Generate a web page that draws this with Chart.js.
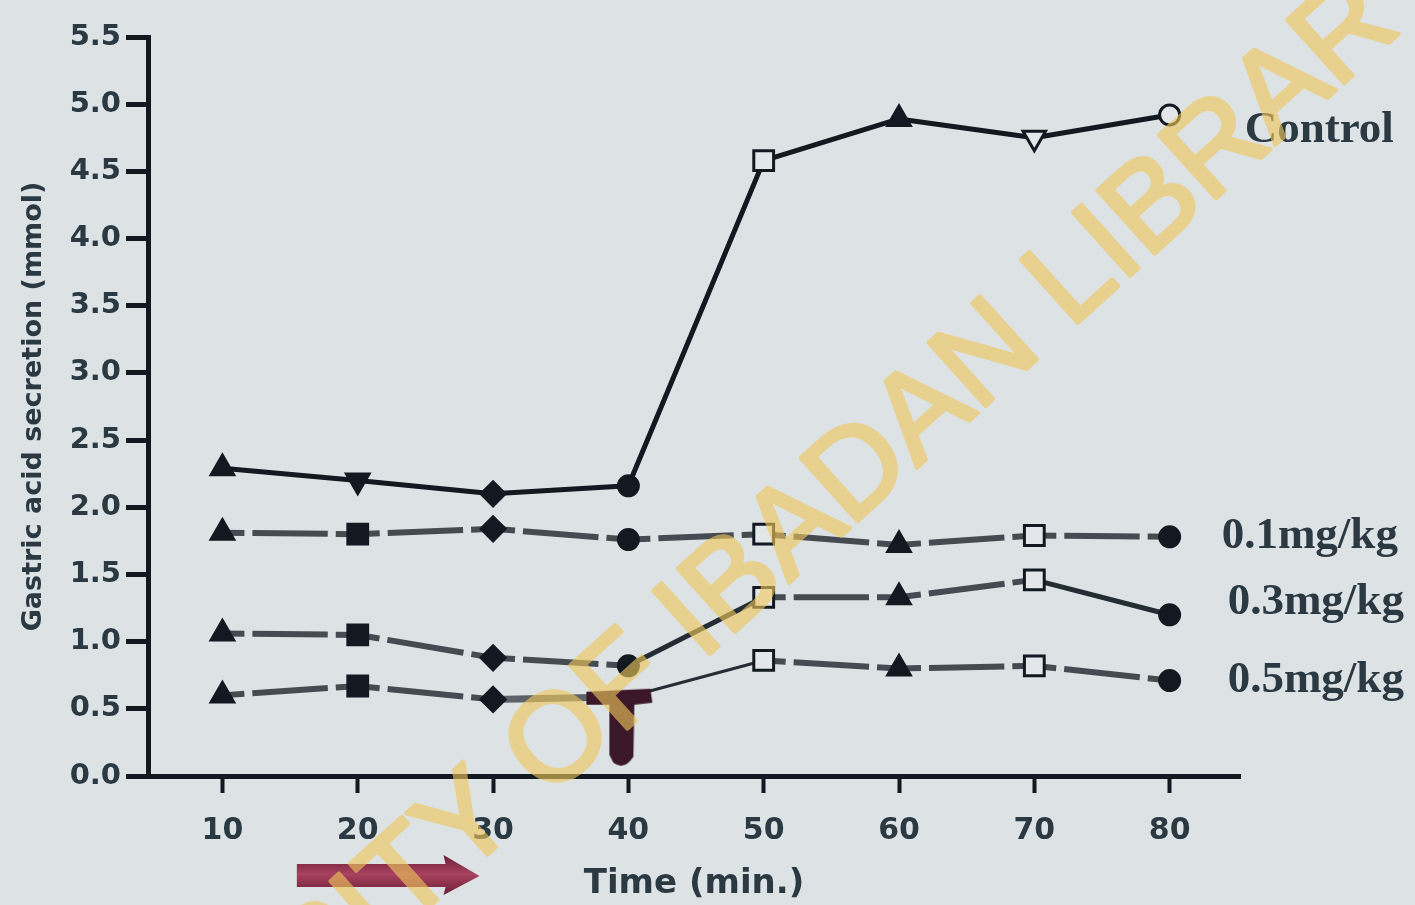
<!DOCTYPE html>
<html>
<head>
<meta charset="utf-8">
<script src="https://cdn.jsdelivr.net/npm/chart.js@4/dist/chart.umd.min.js"></script>
<style>
  html, body { margin: 0; padding: 0; background: #dde2e5; overflow: hidden; }
  canvas { display: block; }
</style>
</head>
<body>
<canvas id="chart" width="1415" height="905"></canvas>
<script>
// ---- data ----
const times = [10, 20, 30, 40, 50, 60, 70, 80];
const controlValues = [2.29, 2.20, 2.10, 2.16, 4.58, 4.89, 4.75, 4.92];
const dose01Values  = [1.81, 1.80, 1.84, 1.76, 1.80, 1.72, 1.79, 1.78];
const dose03Values  = [1.06, 1.05, 0.88, 0.82, 1.33, 1.33, 1.46, 1.20];
const dose05Values  = [0.60, 0.67, 0.57, 0.59, 0.86, 0.80, 0.82, 0.71];
const seriesNames = ['Control', '0.1mg/kg', '0.3mg/kg', '0.5mg/kg'];
const xTickValues = [10, 20, 30, 40, 50, 60, 70, 80];
const yTickValues = [0, 0.5, 1, 1.5, 2, 2.5, 3, 3.5, 4, 4.5, 5, 5.5];

// ---- styling ----
const ink = '#121920';
const labelInk = '#2b3943';
const paper = '#dde2e5';
const openFill = '#e3e7e9';

// marker sequence along the time axis
const controlShapes = ['triangle', 'triangle', 'rectRot', 'circle', 'rect', 'triangle', 'triangle', 'circle'];
const doseShapes    = ['triangle', 'rect', 'rectRot', 'circle', 'rect', 'triangle', 'rect', 'circle'];
const markerRotation = [0, 180, 0, 0, 0, 0, 180, 0];
const controlOpen = [false, false, false, false, true, false, true, true];
const doseOpen    = [false, false, false, false, true, false, true, false];
const markerRadius = { triangle: 13, rect: 14, rectRot: 12, circle: 10 };

// how each stretch between neighbouring points is stroked
const controlSegments = ['solid', 'solid', 'solid', 'solid', 'solid', 'solid', 'solid'];
const dose01Segments  = ['dash', 'dash', 'dash', 'dash', 'dash', 'dash', 'dash'];
const dose03Segments  = ['dash', 'dash', 'dash', 'join', 'dash', 'dash', 'join'];
const dose05Segments  = ['dash', 'dash', 'bar', 'thin', 'dash', 'dash', 'dash'];
const segmentLook = {
  solid: { color: ink, width: 5 },
  dash:  { color: '#454b51', width: 6 },
  join:  { color: '#242c34', width: 5 },
  thin:  { color: '#262d35', width: 3 },
  bar:   { color: '#5c6267', width: 7 }
};

// maroon T-shaped marker used for the 0.5 mg/kg reading at 40 min
function makeTeeMarker() {
  const c = document.createElement('canvas');
  c.width = 100; c.height = 160;
  const g = c.getContext('2d');
  g.fillStyle = '#3a1829';
  const cx = 50, cy = 80;
  g.beginPath();
  g.moveTo(cx - 42, cy - 5);
  g.lineTo(cx + 22, cy - 8);
  g.lineTo(cx + 24, cy + 6);
  g.lineTo(cx + 6, cy + 8);
  g.lineTo(cx + 5, cy + 60);
  g.quadraticCurveTo(cx - 4, cy + 74, cx - 15, cy + 66);
  g.lineTo(cx - 19, cy + 58);
  g.lineTo(cx - 19, cy + 8);
  g.lineTo(cx - 42, cy + 8);
  g.closePath();
  g.fill();
  return c;
}
const teeMarker = makeTeeMarker();

function gapDash(ctx) {
  const L = Math.hypot(ctx.p1.x - ctx.p0.x, ctx.p1.y - ctx.p0.y);
  const arm = 22, gap = 8;
  return [arm, gap, Math.max(L - 2 * arm - 2 * gap, 0), gap, arm, 0];
}

function buildDataset(label, values, shapes, open, segments, overrides) {
  const pts = values.map((v, i) => ({ x: times[i], y: v }));
  const style = shapes.map((s, i) => (overrides && overrides[i]) ? overrides[i] : s);
  return {
    label,
    data: pts,
    tension: 0,
    fill: false,
    borderColor: segmentLook[segments[0]].color,
    borderWidth: segmentLook[segments[0]].width,
    borderCapStyle: 'butt',
    borderJoinStyle: 'round',
    pointStyle: style,
    pointRotation: markerRotation,
    pointRadius: style.map(s => typeof s === 'string' ? markerRadius[s] : 10),
    pointBorderWidth: 3,
    pointBorderColor: ink,
    pointBackgroundColor: open.map(o => o ? openFill : ink),
    segment: {
      borderDash: ctx => segments[ctx.p0DataIndex] === 'dash' ? gapDash(ctx) : [],
      borderColor: ctx => segmentLook[segments[ctx.p0DataIndex]].color,
      borderWidth: ctx => segmentLook[segments[ctx.p0DataIndex]].width
    }
  };
}

const datasets = [
  buildDataset(seriesNames[0], controlValues, controlShapes, controlOpen, controlSegments),
  buildDataset(seriesNames[1], dose01Values, doseShapes, doseOpen, dose01Segments),
  buildDataset(seriesNames[2], dose03Values, doseShapes, doseOpen, dose03Segments),
  buildDataset(seriesNames[3], dose05Values, doseShapes, doseOpen, dose05Segments, { 3: teeMarker })
];

// series names written beside the last point of each line
const nameOffsets = [ { dx: 75, dy: 15 }, { dx: 52, dy: 0 }, { dx: 58, dy: -12 }, { dx: 58, dy: 0 } ];

const decorPlugin = {
  id: 'decor',
  beforeDraw(chart) {
    const { ctx, width, height } = chart;
    ctx.save();
    ctx.fillStyle = paper;
    ctx.fillRect(0, 0, width, height);
    ctx.restore();
  },
  afterDatasetsDraw(chart) {
    const { ctx } = chart;
    ctx.save();
    ctx.font = 'bold 45px "Liberation Serif"';
    ctx.fillStyle = labelInk;
    ctx.textBaseline = 'middle';
    ctx.textAlign = 'left';
    chart.data.datasets.forEach((ds, i) => {
      const meta = chart.getDatasetMeta(i);
      const last = meta.data[meta.data.length - 1];
      ctx.fillText(ds.label, last.x + nameOffsets[i].dx, last.y + nameOffsets[i].dy);
    });
    ctx.restore();
  },
  afterDraw(chart) {
    const { ctx, scales, chartArea } = chart;
    // direction arrow under the time axis
    const x0 = scales.x.getPixelForValue(15.5);
    const x1 = scales.x.getPixelForValue(29);
    const yc = chartArea.bottom + 100;
    ctx.save();
    const grad = ctx.createLinearGradient(0, yc - 20, 0, yc + 20);
    grad.addColorStop(0, '#6f1f3a');
    grad.addColorStop(0.45, '#a8425f');
    grad.addColorStop(1, '#6a1c36');
    ctx.fillStyle = grad;
    ctx.beginPath();
    ctx.moveTo(x0, yc - 12);
    ctx.lineTo(x1 - 34, yc - 12);
    ctx.lineTo(x1 - 36, yc - 21);
    ctx.lineTo(x1, yc);
    ctx.lineTo(x1 - 36, yc + 19);
    ctx.lineTo(x1 - 34, yc + 11);
    ctx.lineTo(x0, yc + 11);
    ctx.closePath();
    ctx.fill();
    ctx.restore();

    // library watermark across the figure
    const off = document.createElement('canvas');
    off.width = chart.width; off.height = chart.height;
    const o = off.getContext('2d');
    const text = 'UNIVERSITY OF IBADAN LIBRARY';
    o.font = '124px "Liberation Sans"';
    const lead = o.measureText('UNIVERSITY ').width;
    o.translate(548, 800);
    o.rotate(-42 * Math.PI / 180);
    o.fillStyle = '#f0c85c';
    o.strokeStyle = '#f0c85c';
    o.lineWidth = 4;
    o.lineJoin = 'round';
    o.fillText(text, -lead, 0);
    o.strokeText(text, -lead, 0);
    ctx.save();
    ctx.globalAlpha = 0.62;
    ctx.drawImage(off, 0, 0);
    ctx.restore();
  }
};

const tickFont = { family: 'DejaVu Sans', weight: 'bold', size: 29 };

new Chart(document.getElementById('chart'), {
  type: 'line',
  data: { datasets },
  plugins: [decorPlugin],
  options: {
    responsive: false,
    animation: false,
    devicePixelRatio: 1,
    layout: { padding: { top: 37, right: 175, left: 0, bottom: 0 } },
    plugins: { legend: { display: false }, tooltip: { enabled: false } },
    scales: {
      x: {
        type: 'linear',
        min: 4.5,
        max: 85.2,
        afterBuildTicks: s => { s.ticks = xTickValues.map(v => ({ value: v })); },
        afterFit: s => { s.height = 129; },
        ticks: { font: { ...tickFont, size: 30 }, color: labelInk, padding: 20, callback: v => String(v) },
        grid: { drawOnChartArea: false, drawTicks: true, tickLength: 17, tickWidth: 4, tickColor: ink },
        border: { display: true, color: ink, width: 5 },
        title: {
          display: true,
          text: 'Time (min.)',
          font: { family: 'DejaVu Sans', weight: 'bold', size: 34 },
          color: labelInk,
          padding: { top: 0, bottom: 0 }
        }
      },
      y: {
        min: 0,
        max: 5.5,
        afterBuildTicks: s => { s.ticks = yTickValues.map(v => ({ value: v })); },
        afterFit: s => { s.width = 148; },
        ticks: { font: tickFont, color: labelInk, padding: 5, callback: v => v.toFixed(1) },
        grid: { drawOnChartArea: false, drawTicks: true, tickLength: 22, tickWidth: 5, tickColor: ink },
        border: { display: true, color: ink, width: 5 },
        title: {
          display: true,
          text: 'Gastric acid secretion (mmol)',
          font: { family: 'DejaVu Sans', weight: 'bold', size: 27 },
          color: labelInk,
          padding: { top: 18, bottom: 0 }
        }
      }
    }
  }
});
</script>
</body>
</html>
